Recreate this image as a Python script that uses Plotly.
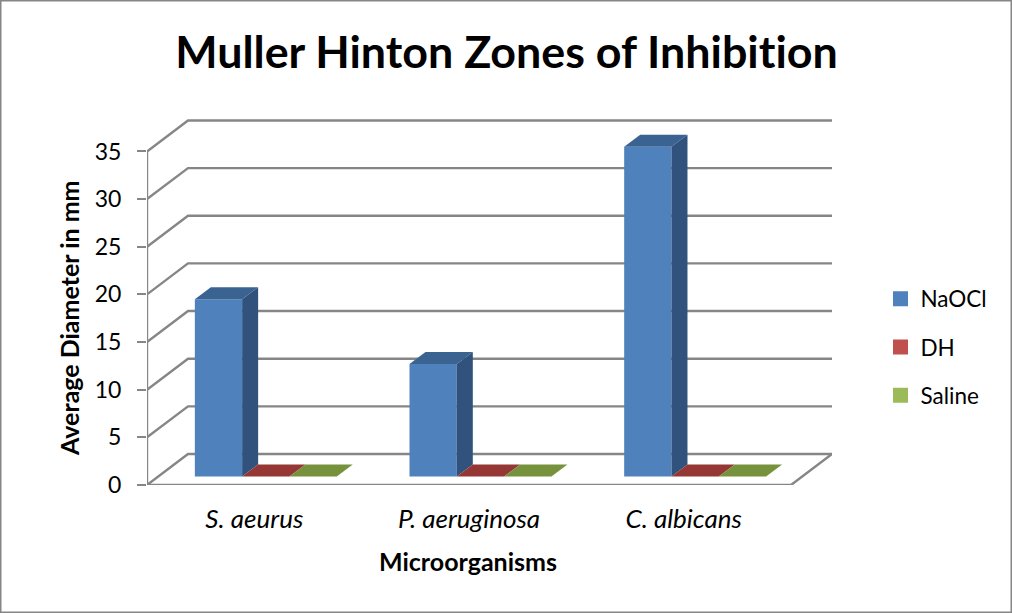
import plotly.graph_objects as go

categories = ["S. aeurus", "P. aeruginosa", "C. albicans"]
series_names = ["NaOCl", "DH", "Saline"]
naocl = [18.6, 11.8, 34.6]
dh = [0, 0, 0]
saline = [0, 0, 0]
y_ticks = [0, 5, 10, 15, 20, 25, 30, 35]

front_colors = ["#4F81BD", "#C0504D", "#9BBB59"]
top_colors = ["#3B6391", "#953735", "#76923C"]
side_colors = ["#31527C", "#7A2C2A", "#5F7730"]
GREY = "#868686"
FONT = "Lato"

W, H = 1012, 613
L, R, T, B = 147, 832, 119, 485
PX_X = 214.67
PX_Y = 9.53
WALL_DX, WALL_DY = 41 / PX_X, 31 / PX_Y
BAR_DX, BAR_DY = 16 / PX_X, 12 / PX_Y
BAR_W = 47.3 / PX_X
BAR_START = 0.333
BASE = 8.5 / PX_Y
xrange_ = [0, (R - L) / PX_X]
yrange_ = [0, (B - T) / PX_Y]
n = len(categories)

fig = go.Figure()

# walls and gridlines
gx, gy = [], []
for v in y_ticks:
    gx += [0, WALL_DX, n + WALL_DX, None]
    gy += [v, v + WALL_DY, v + WALL_DY, None]
fig.add_trace(go.Scatter(x=gx, y=gy, mode="lines", line=dict(color=GREY, width=2.4),
                         showlegend=False, hoverinfo="skip", cliponaxis=False))
fig.add_trace(go.Scatter(x=[0, 0, None, 0, n, n + WALL_DX],
                         y=[max(y_ticks), 0, None, 0, 0, WALL_DY],
                         mode="lines", line=dict(color=GREY, width=2.4),
                         showlegend=False, hoverinfo="skip", cliponaxis=False))

# bars on an overlay subplot so they sit above the gridlines
for j, (name, vals) in enumerate(zip(series_names, [naocl, dh, saline])):
    xs = [i + BAR_START + j * BAR_W for i in range(n)]
    fig.add_trace(go.Bar(x=xs, y=vals, base=[BASE] * n, width=BAR_W, name=name,
                         marker=dict(color=front_colors[j], line=dict(width=0)),
                         xaxis="x2", yaxis="y2", showlegend=False, hoverinfo="skip"))
    for c, v in zip(xs, vals):
        x0, x1 = c - BAR_W / 2, c + BAR_W / 2
        top = BASE + v
        fig.add_trace(go.Scatter(
            x=[x0, x1, x1 + BAR_DX, x0 + BAR_DX, x0],
            y=[top, top, top + BAR_DY, top + BAR_DY, top],
            mode="lines", fill="toself", fillcolor=top_colors[j], line=dict(width=0),
            xaxis="x2", yaxis="y2", showlegend=False, hoverinfo="skip"))
        if v > 0:
            fig.add_trace(go.Scatter(
                x=[x1, x1 + BAR_DX, x1 + BAR_DX, x1, x1],
                y=[BASE, BASE + BAR_DY, top + BAR_DY, top, BASE],
                mode="lines", fill="toself", fillcolor=side_colors[j], line=dict(width=0),
                xaxis="x2", yaxis="y2", showlegend=False, hoverinfo="skip"))

# legend entries
for j, name in enumerate(series_names):
    fig.add_trace(go.Scatter(x=[None], y=[None], mode="markers", name=name, legendgroup=name,
                             marker=dict(symbol="square", size=15, color=front_colors[j])))

fig.update_layout(
    width=W, height=H, autosize=False,
    margin=dict(l=L, r=W - R, t=T, b=H - B),
    paper_bgcolor="white", plot_bgcolor="white",
    font=dict(family=FONT, size=20.5, color="black"),
    title=dict(text="<b>Muller Hinton Zones of Inhibition</b>", x=506.5 / W, xanchor="center",
               y=1 - 52 / H, yanchor="middle", font=dict(family=FONT, size=44.8, color="black")),
    showlegend=True,
    legend=dict(x=1 + (880.5 - R) / (R - L), xanchor="left", y=1 - (347 - T) / (B - T), yanchor="middle",
                traceorder="grouped", tracegroupgap=16, bgcolor="rgba(0,0,0,0)",
                font=dict(family=FONT, size=22.5)),
    xaxis=dict(range=xrange_, showgrid=False, zeroline=False, showline=False,
               tickmode="array", tickvals=[i + 0.5 for i in range(n)], ticktext=categories,
               ticks="", tickfont=dict(family=FONT, size=26, style="italic"), ticklabelstandoff=16),
    yaxis=dict(range=yrange_, showgrid=False, zeroline=False, showline=False,
               tickmode="array", tickvals=y_ticks, ticks="outside", ticklen=9, tickwidth=2,
               tickcolor=GREY, ticklabelstandoff=11, tickfont=dict(family=FONT, size=23)),
    xaxis2=dict(range=xrange_, overlaying="x", visible=False),
    yaxis2=dict(range=yrange_, overlaying="y", visible=False),
    barmode="overlay",
    annotations=[
        dict(text="<b>Microorganisms</b>", xref="paper", yref="paper", showarrow=False,
             x=(468 - L) / (R - L), y=1 - (561 - T) / (B - T), xanchor="center", yanchor="middle",
             font=dict(family=FONT, size=25, color="black")),
        dict(text="<b>Average Diameter in mm</b>", xref="paper", yref="paper", showarrow=False,
             textangle=-90, x=(69 - L) / (R - L), y=1 - (318 - T) / (B - T),
             xanchor="center", yanchor="middle", font=dict(family=FONT, size=25, color="black")),
    ],
    shapes=[dict(type="rect", xref="paper", yref="paper",
                 x0=(0.5 - L) / (R - L), x1=(W - 0.5 - L) / (R - L),
                 y0=1 - (H - 0.5 - T) / (B - T), y1=1 - (0.5 - T) / (B - T),
                 line=dict(color=GREY, width=2), layer="below")],
)

post = ("document.body.style.margin='0';"
        "var s=document.createElement('style');"
        "s.textContent='text{font-variant-ligatures:none !important}';"
        "document.head.appendChild(s);")
fig.write_html("out.html", post_script=post, config={"displayModeBar": False})
